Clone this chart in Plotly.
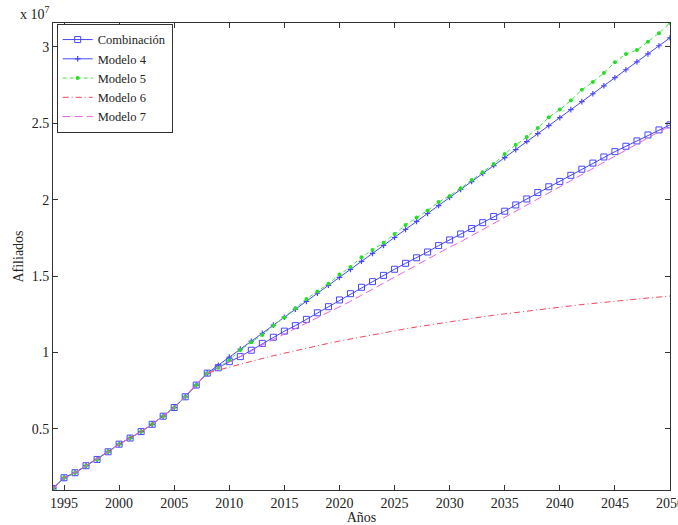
import plotly.graph_objects as go

# Años (eje X) y afiliados en unidades de 10^7
anios = list(range(1994, 2051))

# Serie histórica común 1994-2008
historico = [0.110, 0.180, 0.213, 0.259, 0.300, 0.350, 0.400, 0.440,
             0.482, 0.530, 0.583, 0.640, 0.710, 0.787, 0.865]

# Proyecciones 2009-2050
combinacion = [0.900, 0.940, 0.973, 1.015, 1.060, 1.100, 1.140, 1.176, 1.217,
               1.260, 1.300, 1.344, 1.385, 1.427, 1.464, 1.505, 1.545, 1.584,
               1.620, 1.658, 1.700, 1.737, 1.776, 1.812, 1.850, 1.890, 1.925,
               1.966, 2.005, 2.047, 2.085, 2.120, 2.160, 2.200, 2.240, 2.280,
               2.315, 2.350, 2.385, 2.424, 2.457, 2.490]

modelo4 = [0.917, 0.970, 1.022, 1.074, 1.126, 1.179, 1.231, 1.283, 1.335,
           1.388, 1.440, 1.492, 1.544, 1.597, 1.649, 1.701, 1.753, 1.806,
           1.858, 1.910, 1.962, 2.015, 2.067, 2.119, 2.172, 2.224, 2.276,
           2.328, 2.381, 2.433, 2.485, 2.537, 2.590, 2.642, 2.694, 2.746,
           2.799, 2.851, 2.903, 2.955, 3.008, 3.060]

modelo5 = [0.900, 0.950, 1.017, 1.067, 1.115, 1.176, 1.230, 1.290, 1.350,
           1.400, 1.450, 1.510, 1.560, 1.624, 1.671, 1.718, 1.775, 1.835,
           1.883, 1.930, 1.985, 2.025, 2.075, 2.130, 2.180, 2.234, 2.300,
           2.360, 2.410, 2.470, 2.540, 2.590, 2.650, 2.720, 2.770, 2.830,
           2.900, 2.954, 2.980, 3.035, 3.090, 3.157]

modelo6 = [0.885, 0.905, 0.924, 0.943, 0.961, 0.979, 0.996, 1.013, 1.029,
           1.044, 1.060, 1.075, 1.089, 1.103, 1.117, 1.130, 1.143, 1.155,
           1.167, 1.179, 1.191, 1.202, 1.213, 1.223, 1.234, 1.244, 1.253,
           1.263, 1.272, 1.281, 1.289, 1.298, 1.306, 1.314, 1.321, 1.329,
           1.336, 1.343, 1.350, 1.357, 1.363, 1.370]

modelo7 = [0.900, 0.935, 0.970, 1.010, 1.050, 1.085, 1.120, 1.155, 1.190,
           1.225, 1.260, 1.295, 1.335, 1.375, 1.415, 1.455, 1.490, 1.530,
           1.570, 1.610, 1.650, 1.690, 1.725, 1.765, 1.805, 1.845, 1.885,
           1.925, 1.965, 2.005, 2.045, 2.085, 2.125, 2.165, 2.205, 2.245,
           2.290, 2.330, 2.370, 2.410, 2.445, 2.480]

nombres = ["Combinación", "Modelo 4", "Modelo 5", "Modelo 6", "Modelo 7"]

FUENTE = "Liberation Serif, Times New Roman, serif"
TINTA = "#222"

fig = go.Figure()

fig.add_trace(go.Scatter(
    x=anios, y=historico + combinacion, name=nombres[0], mode="lines+markers",
    line=dict(color="rgb(70,70,255)", width=1),
    marker=dict(symbol="square-open", size=6, color="rgb(70,70,255)",
                line=dict(width=1))))

fig.add_trace(go.Scatter(
    x=anios, y=historico + modelo4, name=nombres[1], mode="lines+markers",
    line=dict(color="rgb(70,70,255)", width=1),
    marker=dict(symbol="cross-thin-open", size=4, color="rgb(70,70,255)",
                line=dict(width=1.2, color="rgb(70,70,255)"))))

fig.add_trace(go.Scatter(
    x=anios, y=historico + modelo5, name=nombres[2], mode="lines+markers",
    line=dict(color="rgb(60,230,60)", width=1, dash="4px,3px"),
    marker=dict(symbol="circle", size=4, color="rgb(40,220,40)")))

fig.add_trace(go.Scatter(
    x=anios, y=historico + modelo6, name=nombres[3], mode="lines",
    line=dict(color="rgb(240,70,90)", width=1, dash="6px,3px,1px,3px")))

fig.add_trace(go.Scatter(
    x=anios, y=historico + modelo7, name=nombres[4], mode="lines",
    line=dict(color="rgb(235,100,220)", width=1, dash="8px,4px")))

eje = dict(
    showline=True, linecolor="#333", linewidth=1, mirror="allticks",
    ticks="inside", ticklen=5, tickcolor="#333", showgrid=False,
    zeroline=False, tickfont=dict(family=FUENTE, size=14, color=TINTA),
    ticklabeloverflow="allow", automargin=False,
)

fig.update_xaxes(**eje, range=[1994, 2050], tickvals=list(range(1995, 2051, 5)),
                 title=dict(text="Años", font=dict(family=FUENTE, size=14, color=TINTA),
                            standoff=3))
fig.update_yaxes(**eje, range=[0.10, 3.157],
                 tickvals=[0.5, 1, 1.5, 2, 2.5, 3],
                 ticktext=["0.5", "1", "1.5", "2", "2.5", "3"],
                 title=dict(text="Afiliados", font=dict(family=FUENTE, size=14, color=TINTA),
                            standoff=4))

fig.add_annotation(
    xref="paper", yref="paper", x=0, y=1, xanchor="right", yanchor="bottom",
    xshift=-1, yshift=-1, showarrow=False,
    text="x 10<sup>7</sup>", font=dict(family=FUENTE, size=14, color=TINTA))

fig.update_layout(
    width=678, height=525,
    margin=dict(l=53, r=8, t=23, b=35, autoexpand=False),
    paper_bgcolor="white", plot_bgcolor="white",
    font=dict(family=FUENTE, size=14, color=TINTA),
    legend=dict(x=0.006, y=0.998, xanchor="left", yanchor="top",
                bgcolor="white", bordercolor="#333", borderwidth=1,
                font=dict(family=FUENTE, size=12.5, color=TINTA),
                tracegroupgap=0, itemwidth=30),
    showlegend=True,
)

fig.write_html("out.html")
